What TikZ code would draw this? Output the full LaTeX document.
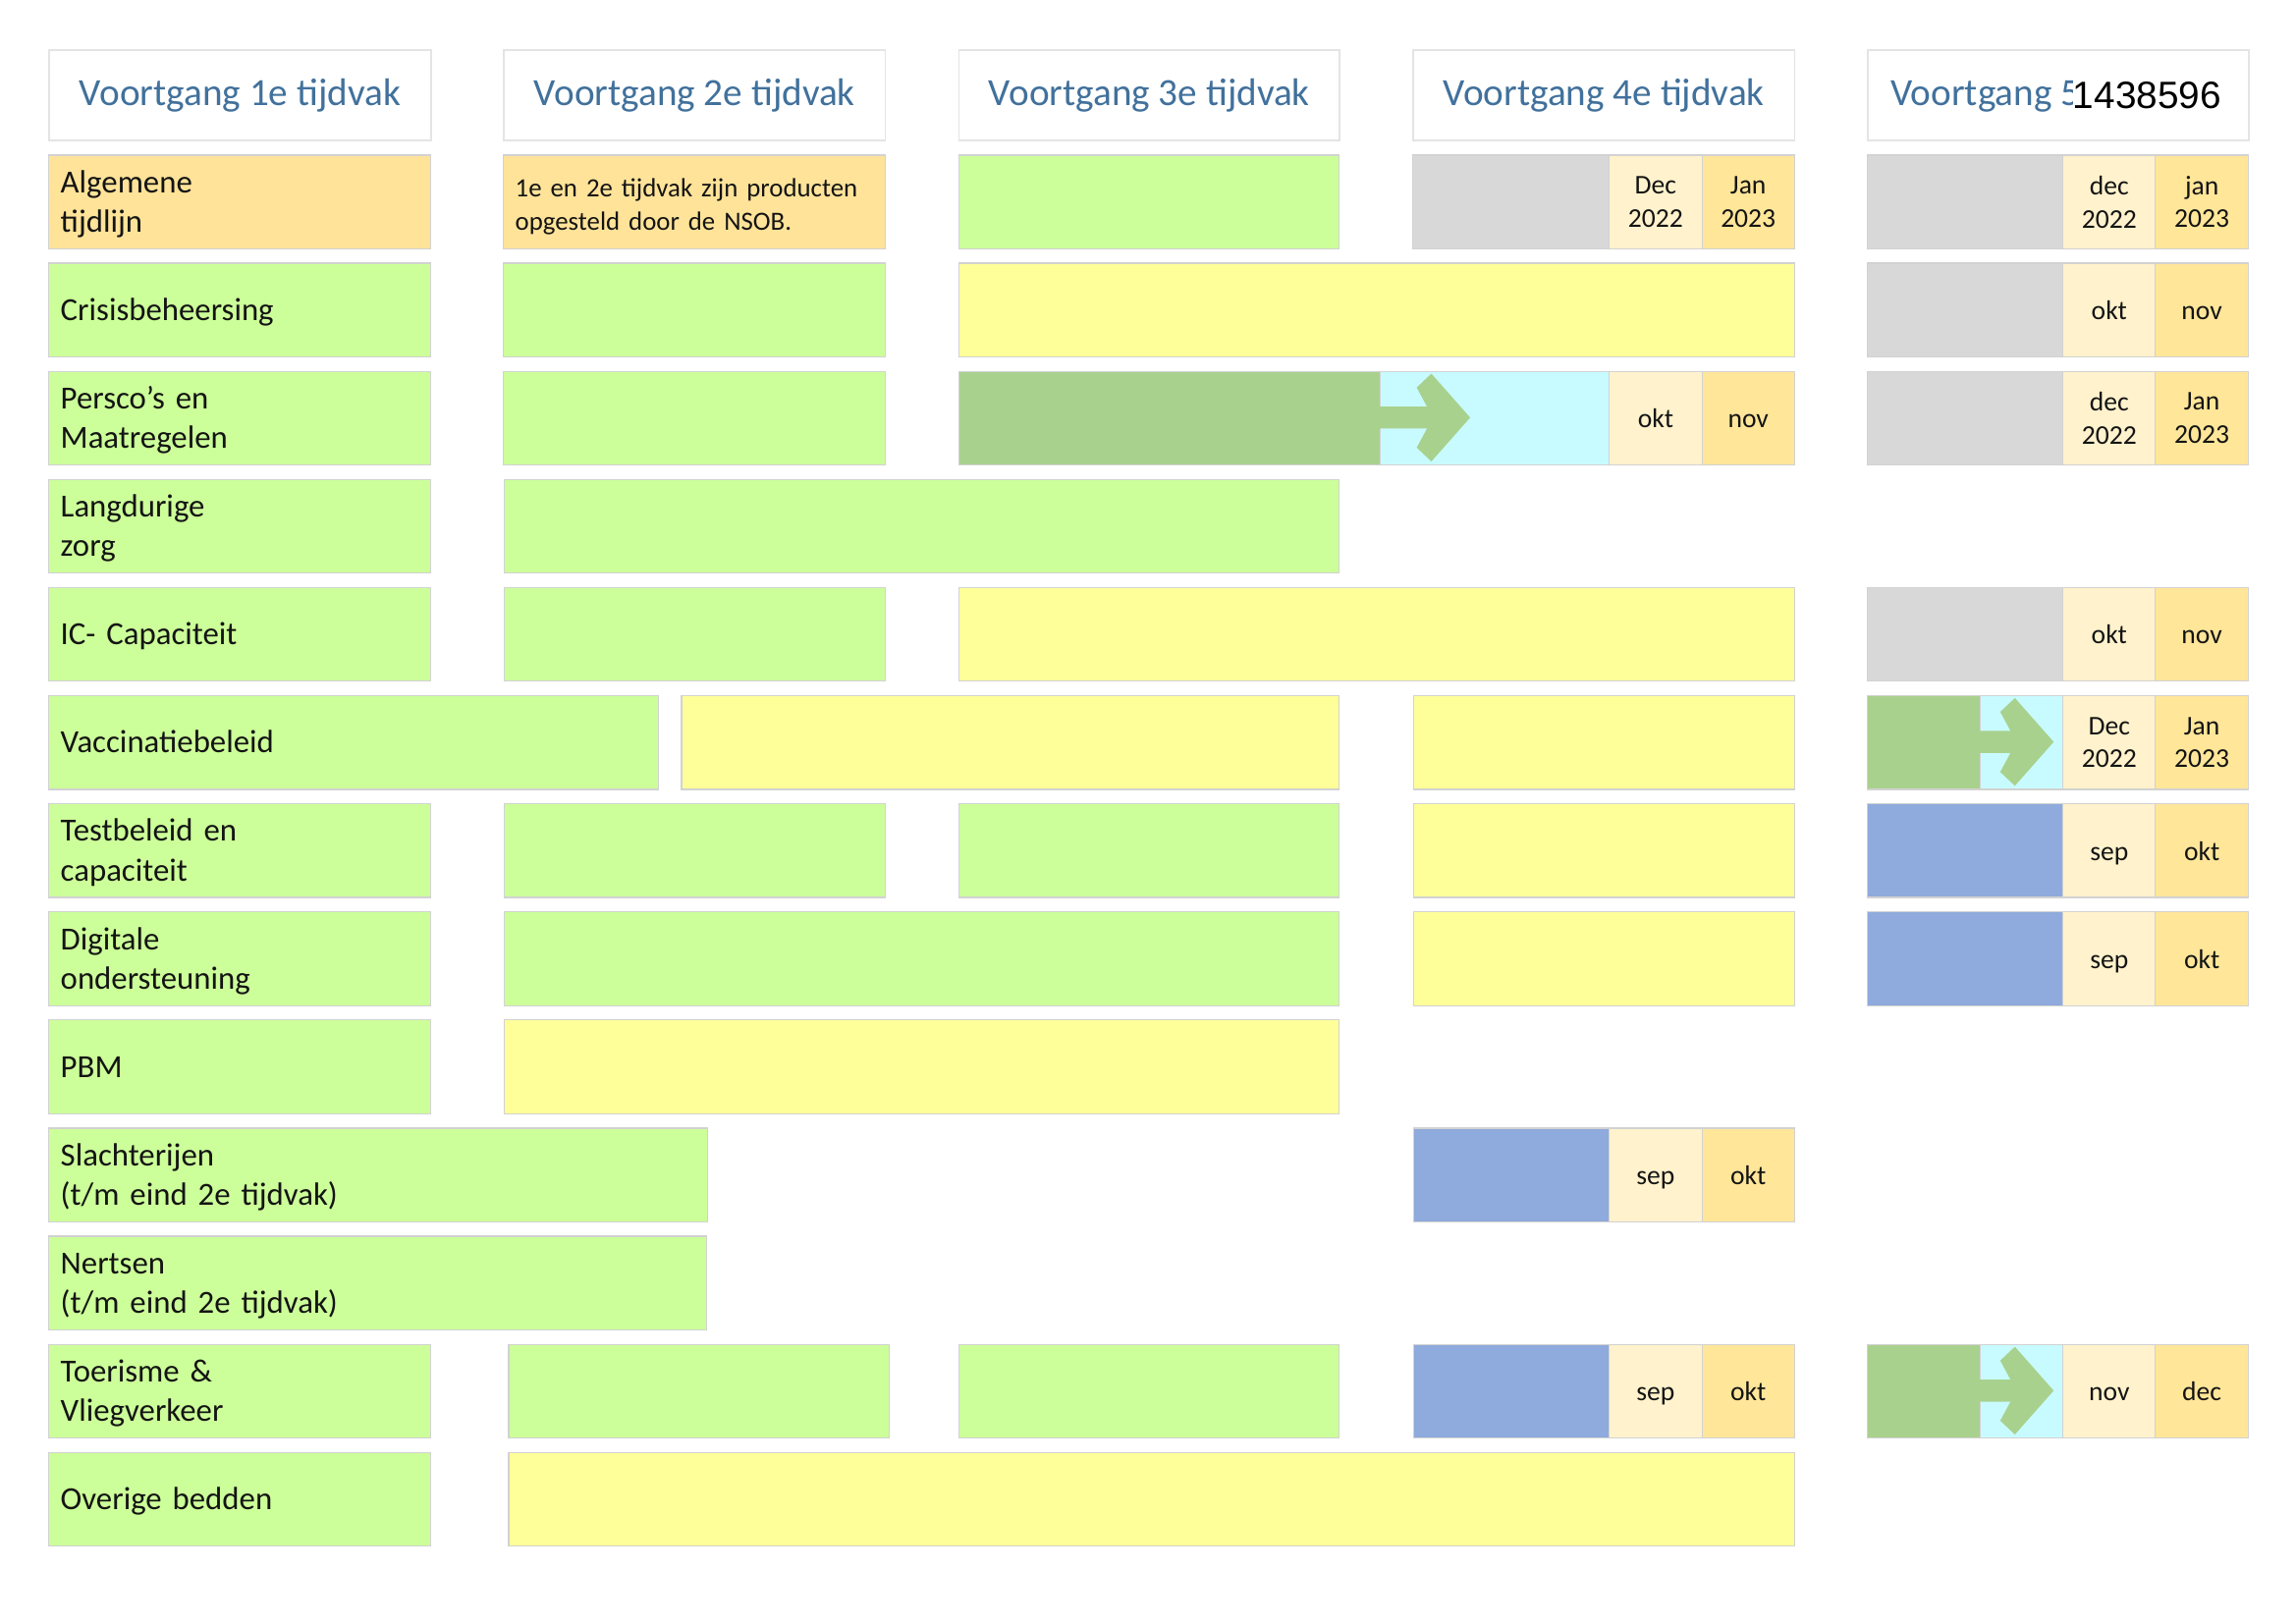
\documentclass[tikz,border=0pt]{standalone}
\usepackage{fontspec}
\setmainfont{Carlito}
\newfontfamily\numfont{Liberation Sans}
\definecolor{lgreen}{HTML}{CCFF99}
\definecolor{lyellow}{HTML}{FFFF99}
\definecolor{lorange}{HTML}{FFE399}
\definecolor{mcream}{HTML}{FFF2CC}
\definecolor{morange}{HTML}{FFE699}
\definecolor{lgray}{HTML}{D8D8D8}
\definecolor{dgreen}{HTML}{A9D18E}
\definecolor{lcyan}{HTML}{C8FBFF}
\definecolor{lblue}{HTML}{8FAADC}
\definecolor{hblue}{HTML}{41719C}
\definecolor{edgec}{HTML}{D2D2D2}
\definecolor{hedgec}{HTML}{E4E4E4}
\definecolor{txtc}{HTML}{141414}
\tikzset{
  labcellstyle/.style={anchor=north west, draw=edgec, line width=0.8pt, inner xsep=8pt, inner ysep=0pt,
    minimum height=64pt, align=left, font=\fontsize{22}{27}\selectfont, text=txtc,
    execute at begin node={\rule{0pt}{22.5pt}}, execute at end node=\strut},
  midcellstyle/.style={anchor=north west, draw=edgec, line width=0.8pt, inner sep=0pt,
    minimum height=64pt, align=center, font=\fontsize{18.5}{22.7}\selectfont, text=txtc},
  hdrstyle/.style={anchor=north west, draw=hedgec, line width=1.2pt, fill=white, inner sep=0pt,
    minimum height=62pt, font=\fontsize{26.3}{30}\selectfont, text=hblue},
}
% name, x1, x2, row, fill, text (left aligned)
\newcommand{\labcell}[6]{%
  \pgfmathsetmacro{\yy}{105.5+(#4-1)*73.85}%
  \pgfmathsetmacro{\tw}{#3-#2-16}%
  \node[labcellstyle, fill=#5, text width=\tw pt] (#1) at (#2,\yy) {#6};}
% name, x1, x2, row, fill, text (centered)
\newcommand{\midcell}[6]{%
  \pgfmathsetmacro{\yy}{105.5+(#4-1)*73.85}%
  \pgfmathsetmacro{\ww}{#3-#2}%
  \node[midcellstyle, fill=#5, minimum width=\ww pt] (#1) at (#2,\yy) {#6};}
% header: name, x1, x2, text
\newcommand{\hdrcell}[4]{%
  \pgfmathsetmacro{\ww}{#3-#2}%
  \node[hdrstyle, minimum width=\ww pt] (#1) at (#2,33.5) {#4};}
% chevron arrow: shaft start, shaft end, centre y
\newcommand{\chevarrow}[3]{%
  \fill[dgreen] (#1,#3-7.5) -- (#2,#3-7.5) -- (#2-7,#3-20.5) -- (#2+3,#3-30) -- (#2+29.5,#3)
    -- (#2+3,#3+30) -- (#2-7,#3+20.5) -- (#2,#3+7.5) -- (#1,#3+7.5) -- cycle;}
\newcommand{\sv}{\rule[-6.8pt]{0pt}{26.7pt}}
\begin{document}
\begin{tikzpicture}[x=1pt,y=-1pt]
\useasboundingbox[fill=white] (0,0) rectangle (1568,1109);
% headers
\hdrcell{h1}{33}{293.6}{Voortgang 1e tijdvak}
\hdrcell{h2}{343.5}{604}{Voortgang 2e tijdvak}
\hdrcell{h3}{654.3}{914.2}{Voortgang 3e tijdvak}
\hdrcell{h4}{964.3}{1225}{Voortgang 4e tijdvak}
\hdrcell{h5}{1275}{1535}{}
\begin{scope}
  \clip (1276,35) rectangle (1415.5,94);
  \node[anchor=base west, inner sep=0pt, font=\fontsize{26.3}{30}\selectfont, text=hblue] (h5t) at (1291,72.3) {Voortgang 5};
\end{scope}
\node[anchor=base west, inner sep=0pt, font=\numfont\fontsize{26}{28}\selectfont, text=black] (num) at (1415.5,74) {1438596};
% column 1 labels
\labcell{a1}{33}{293.6}{1}{lorange}{Algemene\\tijdlijn}
\labcell{a2}{33}{293.6}{2}{lgreen}{Crisisbeheersing}
\labcell{a3}{33}{293.6}{3}{lgreen}{Persco’s en\\Maatregelen}
\labcell{a4}{33}{293.6}{4}{lgreen}{Langdurige\\zorg}
\labcell{a5}{33}{293.6}{5}{lgreen}{IC- Capaciteit}
\labcell{a6}{33}{449}{6}{lgreen}{Vaccinatiebeleid}
\labcell{a7}{33}{293.6}{7}{lgreen}{Testbeleid en\\capaciteit}
\labcell{a8}{33}{293.6}{8}{lgreen}{Digitale\\ondersteuning}
\labcell{a9}{33}{293.6}{9}{lgreen}{PBM}
\labcell{a10}{33}{483}{10}{lgreen}{Slachterijen\\(t/m eind 2e tijdvak)}
\labcell{a11}{33}{482}{11}{lgreen}{Nertsen\\(t/m eind 2e tijdvak)}
\labcell{a12}{33}{293.6}{12}{lgreen}{Toerisme \&\\Vliegverkeer}
\labcell{a13}{33}{293.6}{13}{lgreen}{Overige bedden}
% row 1
\node[labcellstyle, fill=lorange, text width=244.5pt, font=\fontsize{18}{23}\selectfont,
  execute at begin node={\rule{0pt}{20.5pt}}] (b1) at (343.5,105.5)
  {1e en 2e tijdvak zijn producten\\opgesteld door de NSOB.};
\midcell{c1}{654.3}{914.2}{1}{lgreen}{}
\midcell{d1g}{964.3}{1098.5}{1}{lgray}{}
\midcell{d1a}{1098.5}{1162}{1}{mcream}{Dec\\2022}
\midcell{d1b}{1162}{1225}{1}{morange}{Jan\\2023}
\midcell{e1g}{1275}{1408.5}{1}{lgray}{}
\midcell{e1a}{1408.5}{1471.6}{1}{mcream}{dec\\2022}
\midcell{e1b}{1471.6}{1535}{1}{morange}{jan\\2023}
% row 2
\midcell{b2}{343.5}{604}{2}{lgreen}{}
\midcell{c2}{654.3}{1225}{2}{lyellow}{}
\midcell{e2g}{1275}{1408.5}{2}{lgray}{}
\midcell{e2a}{1408.5}{1471.6}{2}{mcream}{\sv okt}
\midcell{e2b}{1471.6}{1535}{2}{morange}{\sv nov}
% row 3
\midcell{b3}{343.5}{604}{3}{lgreen}{}
\midcell{c3}{654.3}{942}{3}{dgreen}{}
\midcell{d3c}{942}{1098.5}{3}{lcyan}{}
\chevarrow{942}{974.5}{285.2}
\midcell{d3a}{1098.5}{1162}{3}{mcream}{\sv okt}
\midcell{d3b}{1162}{1225}{3}{morange}{\sv nov}
\midcell{e3g}{1275}{1408.5}{3}{lgray}{}
\midcell{e3a}{1408.5}{1471.6}{3}{mcream}{dec\\2022}
\midcell{e3b}{1471.6}{1535}{3}{morange}{Jan\\2023}
% row 4
\midcell{b4}{344}{914.2}{4}{lgreen}{}
% row 5
\midcell{b5}{344}{604}{5}{lgreen}{}
\midcell{c5}{654.3}{1225}{5}{lyellow}{}
\midcell{e5g}{1275}{1408.5}{5}{lgray}{}
\midcell{e5a}{1408.5}{1471.6}{5}{mcream}{\sv okt}
\midcell{e5b}{1471.6}{1535}{5}{morange}{\sv nov}
% row 6
\midcell{b6}{465}{914.2}{6}{lyellow}{}
\midcell{d6}{965}{1225}{6}{lyellow}{}
\midcell{e6g}{1275}{1352}{6}{dgreen}{}
\midcell{e6c}{1352}{1408.5}{6}{lcyan}{}
\chevarrow{1352}{1373}{506.75}
\midcell{e6a}{1408.5}{1471.6}{6}{mcream}{Dec\\2022}
\midcell{e6b}{1471.6}{1535}{6}{morange}{Jan\\2023}
% row 7
\midcell{b7}{344}{604}{7}{lgreen}{}
\midcell{c7}{654.3}{914.2}{7}{lgreen}{}
\midcell{d7}{965}{1225}{7}{lyellow}{}
\midcell{e7g}{1275}{1408.5}{7}{lblue}{}
\midcell{e7a}{1408.5}{1471.6}{7}{mcream}{\sv sep}
\midcell{e7b}{1471.6}{1535}{7}{morange}{\sv okt}
% row 8
\midcell{b8}{344}{914.2}{8}{lgreen}{}
\midcell{d8}{965}{1225}{8}{lyellow}{}
\midcell{e8g}{1275}{1408.5}{8}{lblue}{}
\midcell{e8a}{1408.5}{1471.6}{8}{mcream}{\sv sep}
\midcell{e8b}{1471.6}{1535}{8}{morange}{\sv okt}
% row 9
\midcell{b9}{344}{914.2}{9}{lyellow}{}
% row 10
\midcell{d10g}{965}{1098.5}{10}{lblue}{}
\midcell{d10a}{1098.5}{1162}{10}{mcream}{\sv sep}
\midcell{d10b}{1162}{1225}{10}{morange}{\sv okt}
% row 12
\midcell{b12}{347}{607}{12}{lgreen}{}
\midcell{c12}{654.3}{914.2}{12}{lgreen}{}
\midcell{d12g}{965}{1098.5}{12}{lblue}{}
\midcell{d12a}{1098.5}{1162}{12}{mcream}{\sv sep}
\midcell{d12b}{1162}{1225}{12}{morange}{\sv okt}
\midcell{e12g}{1275}{1352}{12}{dgreen}{}
\midcell{e12c}{1352}{1408.5}{12}{lcyan}{}
\chevarrow{1352}{1373}{949.85}
\midcell{e12a}{1408.5}{1471.6}{12}{mcream}{\sv nov}
\midcell{e12b}{1471.6}{1535}{12}{morange}{\sv dec}
% row 13
\midcell{b13}{347}{1225}{13}{lyellow}{}
\end{tikzpicture}
\end{document}
